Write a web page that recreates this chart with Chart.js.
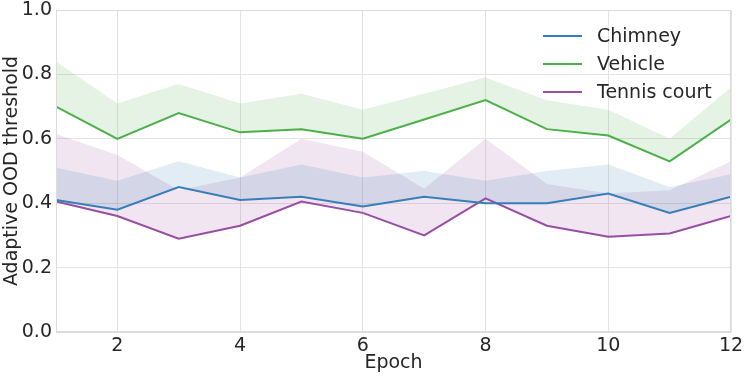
<!DOCTYPE html>
<html><head><meta charset="utf-8">
<script src="https://cdn.jsdelivr.net/npm/chart.js@4/dist/chart.umd.min.js"></script>
<style>html,body{margin:0;padding:0;background:#fff}#wrap{width:747px;height:377px}</style>
</head><body><div id="wrap"><canvas id="c" width="747" height="377"></canvas></div>
<script>
const epochs = [1,2,3,4,5,6,7,8,9,10,11,12];
const xTicks = [2,4,6,8,10,12];
const yTicks = [0,0.2,0.4,0.6,0.8,1.0];
const seriesNames = ['Chimney','Vehicle','Tennis court'];
const chimney      = [0.41,0.38,0.45,0.41,0.42,0.39,0.42,0.40,0.40,0.43,0.37,0.42];
const chimneyUpper = [0.51,0.47,0.53,0.48,0.52,0.48,0.50,0.47,0.50,0.52,0.45,0.49];
const vehicle      = [0.70,0.60,0.68,0.62,0.63,0.60,0.66,0.72,0.63,0.61,0.53,0.66];
const vehicleUpper = [0.84,0.71,0.77,0.71,0.74,0.69,0.74,0.79,0.72,0.69,0.60,0.76];
const tennis       = [0.405,0.36,0.29,0.33,0.405,0.37,0.30,0.415,0.33,0.296,0.306,0.36];
const tennisUpper  = [0.615,0.55,0.44,0.48,0.60,0.56,0.445,0.60,0.46,0.43,0.44,0.53];

const colors = ['#377eb8','#4daf4a','#984ea3'];
const fills = ['rgba(55,126,184,0.15)','rgba(77,175,74,0.15)','rgba(152,78,163,0.15)'];
const means = [chimney, vehicle, tennis];
const uppers = [chimneyUpper, vehicleUpper, tennisUpper];
const pts = a => a.map((v,i)=>({x:epochs[i], y:v}));

const datasets = [];
means.forEach((m,i)=>datasets.push({label:seriesNames[i], data:pts(m), borderColor:colors[i], borderWidth:2, pointRadius:0, fill:false, tension:0, order:0}));
uppers.forEach((u,i)=>datasets.push({label:seriesNames[i]+' band', data:pts(u), borderColor:'rgba(0,0,0,0)', borderWidth:0, pointRadius:0, backgroundColor:fills[i], fill:{target:i}, tension:0, order:1}));

const FONT = 'DejaVu Sans';
const TXT = '#262626';
const GRID = '#e3e3e3';

const frame = {
  id:'frame',
  afterDraw(chart){
    const {ctx, chartArea:a} = chart;
    ctx.save();
    ctx.strokeStyle = '#dcdcdc'; ctx.lineWidth = 1;
    ctx.strokeRect(a.left+0.5, a.top+0.5, a.right-a.left-1, a.bottom-a.top-1);
    ctx.font = '19px "' + FONT + '"';
    ctx.textBaseline = 'middle';
    ctx.fillStyle = TXT;
    const ys = [36, 64, 92];
    seriesNames.forEach((n,i)=>{
      ctx.strokeStyle = colors[i]; ctx.lineWidth = 2;
      ctx.beginPath(); ctx.moveTo(543, ys[i]); ctx.lineTo(582, ys[i]); ctx.stroke();
      ctx.fillText(n, 597, ys[i]+1);
    });
    ctx.restore();
  }
};

new Chart(document.getElementById('c'), {
  type:'line',
  data:{datasets},
  plugins:[frame],
  options:{
    responsive:false, animation:false, devicePixelRatio:1,
    layout:{padding:{top:10,right:16,left:0,bottom:0}},
    plugins:{legend:{display:false}, tooltip:{enabled:false}, filler:{drawTime:'beforeDatasetsDraw'}},
    scales:{
      x:{type:'linear', min:1, max:12,
        afterBuildTicks(s){ s.ticks = xTicks.map(v=>({value:v})); },
        afterFit(s){ s.height = 45; s.paddingLeft = 0; s.paddingRight = 0; },
        grid:{color:GRID, drawTicks:false},
        border:{color:'#dcdcdc'},
        ticks:{font:{family:FONT,size:19}, color:TXT, padding:3, maxRotation:0},
        title:{display:true, text:'Epoch', font:{family:FONT,size:19}, color:TXT, padding:{top:0,bottom:3}}
      },
      y:{min:0, max:1,
        afterBuildTicks(s){ s.ticks = yTicks.map(v=>({value:v})); },
        afterFit(s){ s.width = 56; s.paddingTop = 0; s.paddingBottom = 0; },
        grid:{color:GRID, drawTicks:false},
        border:{color:'#dcdcdc'},
        ticks:{font:{family:FONT,size:19}, color:TXT, padding:4, callback:v=>v.toFixed(1)},
        title:{display:true, text:'Adaptive OOD threshold', font:{family:FONT,size:19}, color:TXT, padding:{top:1,bottom:0}}
      }
    }
  }
});
</script></body></html>
